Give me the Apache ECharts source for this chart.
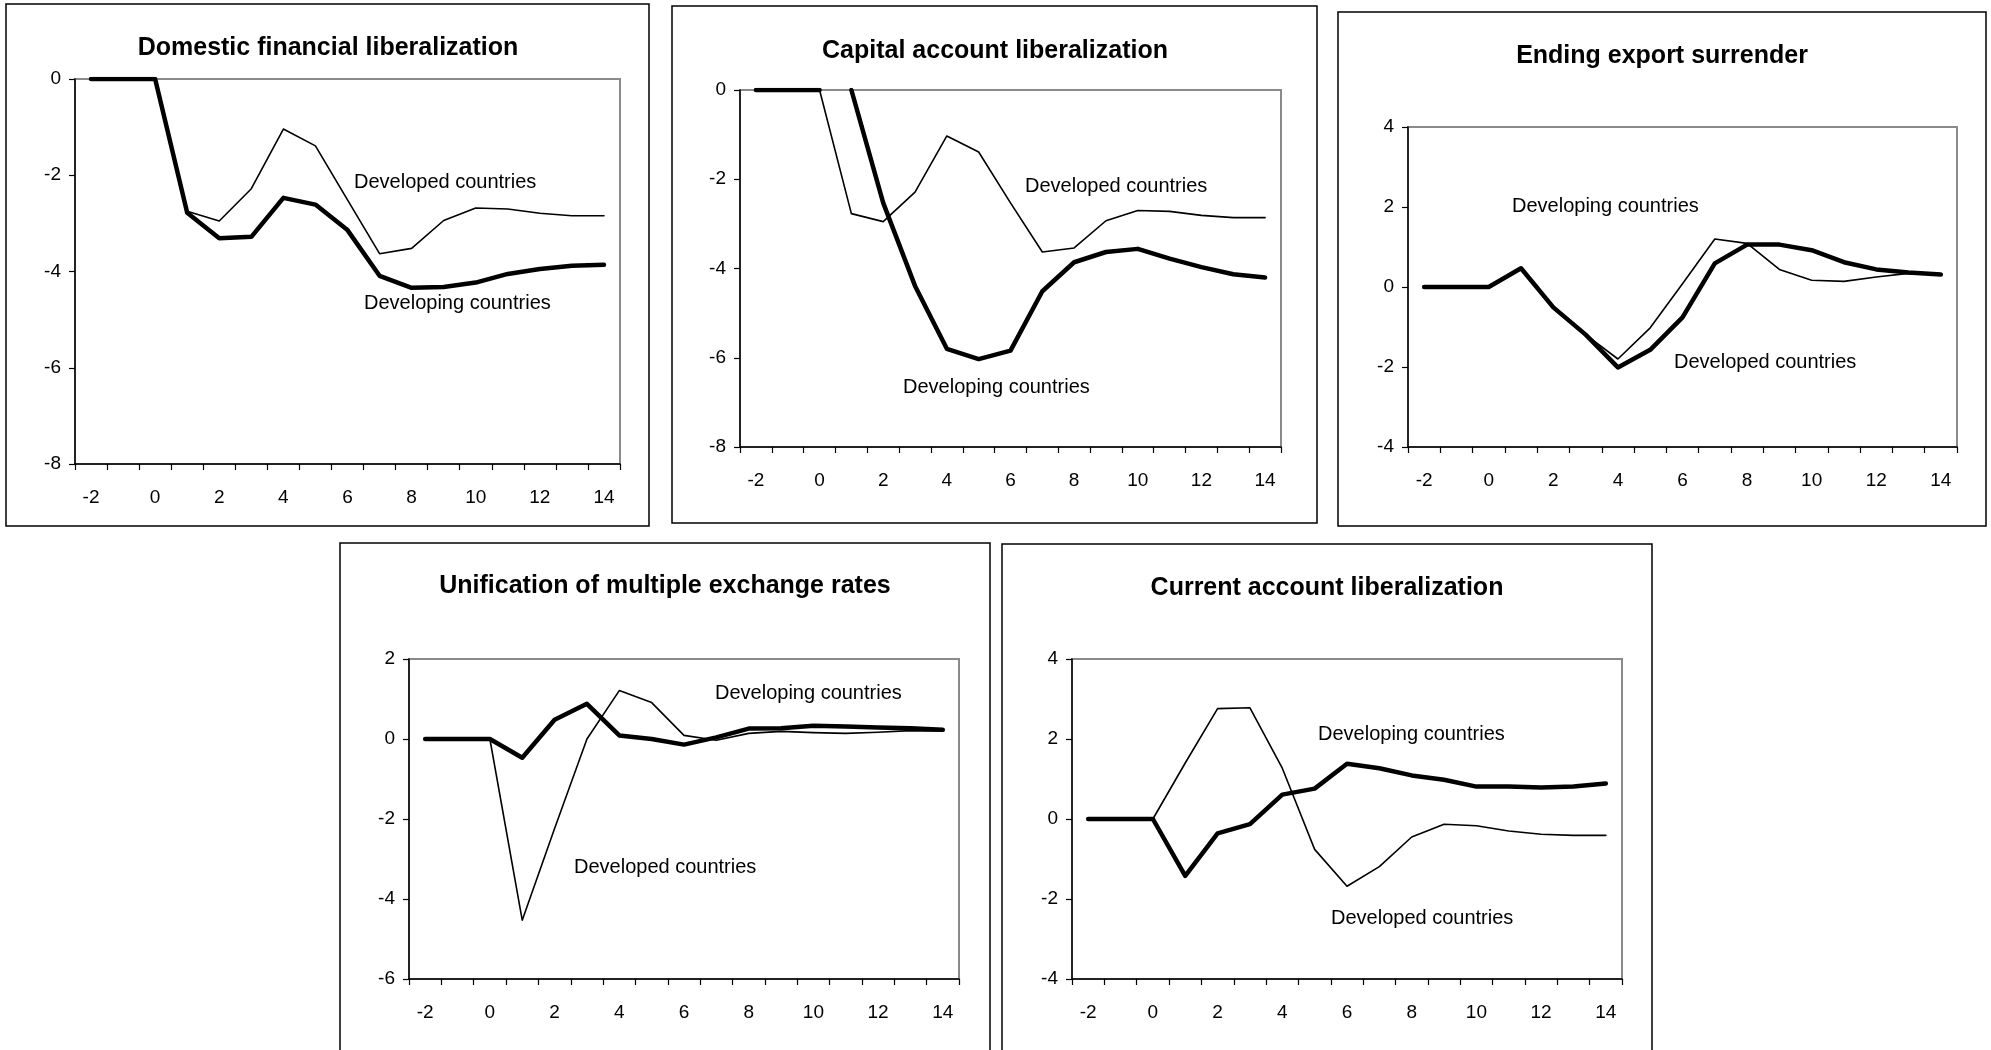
<!DOCTYPE html>
<html>
<head>
<meta charset="utf-8">
<script src="https://cdn.jsdelivr.net/npm/echarts@6/dist/echarts.min.js"></script>
<style>
html,body{margin:0;padding:0;background:#fff;}
#c{width:1991px;height:1050px;}
</style>
</head>
<body>
<div id="c"></div>
<script>
// ---------- DATA ----------
const periods = [-2,-1,0,1,2,3,4,5,6,7,8,9,10,11,12,13,14];

const panelTitles = [
  'Domestic financial liberalization',
  'Capital account liberalization',
  'Ending export surrender',
  'Unification of multiple exchange rates',
  'Current account liberalization'
];

// Domestic financial liberalization
const domesticDeveloped  = [0,0,0,-2.75,-2.95,-2.28,-1.04,-1.39,-2.51,-3.63,-3.52,-2.94,-2.68,-2.70,-2.79,-2.84,-2.84];
const domesticDeveloping = [0,0,0,-2.78,-3.31,-3.28,-2.47,-2.61,-3.14,-4.09,-4.34,-4.32,-4.23,-4.05,-3.95,-3.88,-3.86];

// Capital account liberalization
const capitalDeveloped  = [0,0,0,-2.77,-2.95,-2.29,-1.03,-1.39,-2.53,-3.63,-3.54,-2.93,-2.70,-2.72,-2.81,-2.86,-2.86];
const capitalDeveloping = [0,0,0,0,-2.53,-4.39,-5.80,-6.03,-5.84,-4.51,-3.86,-3.63,-3.56,-3.78,-3.97,-4.13,-4.20];
const capitalDevelopingBreak = 3; // the thick line is not drawn between period 0 and period 1

// Ending export surrender
const exportDeveloped  = [0,0,0,0.47,-0.51,-1.19,-1.80,-1.02,0.08,1.20,1.09,0.44,0.17,0.14,0.25,0.34,0.31];
const exportDeveloping = [0,0,0,0.47,-0.51,-1.19,-2.01,-1.57,-0.76,0.59,1.06,1.06,0.92,0.62,0.44,0.36,0.31];

// Unification of multiple exchange rates
const unifDeveloped  = [0,0,0,-4.53,-2.24,0.00,1.21,0.91,0.09,-0.03,0.14,0.19,0.16,0.14,0.17,0.21,0.20];
const unifDeveloping = [0,0,0,-0.47,0.48,0.88,0.09,0.00,-0.14,0.04,0.26,0.27,0.33,0.31,0.29,0.27,0.23];

// Current account liberalization
const currentDeveloped  = [0,0,0,1.40,2.76,2.78,1.27,-0.76,-1.68,-1.19,-0.45,-0.13,-0.17,-0.30,-0.38,-0.41,-0.41];
const currentDeveloping = [0,0,0,-1.42,-0.36,-0.13,0.61,0.76,1.38,1.27,1.09,0.98,0.81,0.81,0.79,0.81,0.89];

const yMins = [-8,-8,-4,-6,-4];
const yMaxs = [0,0,4,2,4];
const yStep = 2;

const annotDeveloped  = 'Developed countries';
const annotDeveloping = 'Developing countries';

// ---------- LAYOUT (pixels) ----------
const grids = [
  {left:75,   top:79,  width:545, height:385},
  {left:740,  top:90,  width:541, height:357},
  {left:1408, top:127, width:549, height:320},
  {left:409,  top:659, width:550, height:320},
  {left:1072, top:659, width:550, height:320}
];
const boxes = [
  {x:6,    y:4,   w:643, h:522},
  {x:672,  y:6,   w:645, h:517},
  {x:1338, y:12,  w:648, h:514},
  {x:340,  y:543, w:650, h:520},
  {x:1002, y:544, w:650, h:520}
];
const titlePos = [[328,48],[995,51],[1662,56],[665,586],[1327,588]];
// [developedLabelPos, developingLabelPos] : left x, middle y
const annotPos = [
  [[354,182],[364,303]],
  [[1025,186],[903,387]],
  [[1674,362],[1512,206]],
  [[574,867],[715,693]],
  [[1331,918],[1318,734]]
];

const developedSets  = [domesticDeveloped, capitalDeveloped, exportDeveloped, unifDeveloped, currentDeveloped];
const developingSets = [domesticDeveloping, capitalDeveloping, exportDeveloping, unifDeveloping, currentDeveloping];

const FONT = '"Liberation Sans", Arial, Helvetica, sans-serif';
const cats = periods.map(String);

const option = {
  animation:false,
  backgroundColor:'#fff',
  textStyle:{fontFamily:FONT},
  title: panelTitles.map((t,i)=>({
    text:t, left:titlePos[i][0], top:titlePos[i][1],
    textAlign:'center', textVerticalAlign:'middle', padding:0,
    textStyle:{fontSize:25, fontWeight:'bold', color:'#000', fontFamily:FONT}
  })),
  grid: grids.map(g=>({
    left:g.left, top:g.top, width:g.width, height:g.height,
    show:true, borderColor:'#8a8a8a', borderWidth:2, backgroundColor:'rgba(0,0,0,0)',
    containLabel:false
  })),
  xAxis: grids.map((g,i)=>({
    gridIndex:i, type:'category', data:cats, boundaryGap:true,
    axisLine:{show:true, onZero:false, lineStyle:{color:'#000', width:1.5}},
    axisTick:{show:true, interval:0, length:6, lineStyle:{color:'#000', width:1.2}},
    axisLabel:{interval:1, color:'#000', fontSize:19, fontFamily:FONT, margin:24},
    splitLine:{show:false}
  })),
  yAxis: grids.map((g,i)=>({
    gridIndex:i, type:'value', min:yMins[i], max:yMaxs[i], interval:yStep,
    axisLine:{show:true, onZero:false, lineStyle:{color:'#000', width:1.5}},
    axisTick:{show:true, length:6, lineStyle:{color:'#000', width:1.2}},
    axisLabel:{color:'#000', fontSize:19, fontFamily:FONT, margin:14},
    splitLine:{show:false}
  })),
  series: [],
  graphic: []
};

const thin = {color:'#000', width:1.6, join:'round', cap:'round'};
const thick = {color:'#000', width:4.5, join:'round', cap:'round'};

developedSets.forEach((d,i)=>{
  option.series.push({
    name:annotDeveloped, type:'line', xAxisIndex:i, yAxisIndex:i,
    data:d, symbol:'none', lineStyle:thin, z:2, silent:true
  });
});
developingSets.forEach((d,i)=>{
  if (i === 1) {
    option.series.push({
      name:annotDeveloping, type:'line', xAxisIndex:i, yAxisIndex:i,
      data:d.map((v,k)=> k < capitalDevelopingBreak ? v : null),
      symbol:'none', lineStyle:thick, z:3, silent:true
    });
    option.series.push({
      name:annotDeveloping, type:'line', xAxisIndex:i, yAxisIndex:i,
      data:d.map((v,k)=> k >= capitalDevelopingBreak ? v : null),
      symbol:'none', lineStyle:thick, z:3, silent:true
    });
  } else {
    option.series.push({
      name:annotDeveloping, type:'line', xAxisIndex:i, yAxisIndex:i,
      data:d, symbol:'none', lineStyle:thick, z:3, silent:true
    });
  }
});

boxes.forEach(b=>{
  option.graphic.push({
    type:'rect', silent:true, z:0,
    shape:{x:b.x, y:b.y, width:b.w, height:b.h},
    style:{fill:'none', stroke:'#000', lineWidth:1.5}
  });
});
annotPos.forEach((p,i)=>{
  [[annotDeveloped,p[0]],[annotDeveloping,p[1]]].forEach(([txt,pos])=>{
    option.graphic.push({
      type:'text', silent:true, z:10, x:pos[0], y:pos[1],
      style:{text:txt, fill:'#000', font:'20px ' + FONT,
             textAlign:'left', textVerticalAlign:'middle', align:'left', verticalAlign:'middle'}
    });
  });
});

const chart = echarts.init(document.getElementById('c'), null, {renderer:'canvas'});
chart.setOption(option);
</script>
</body>
</html>
